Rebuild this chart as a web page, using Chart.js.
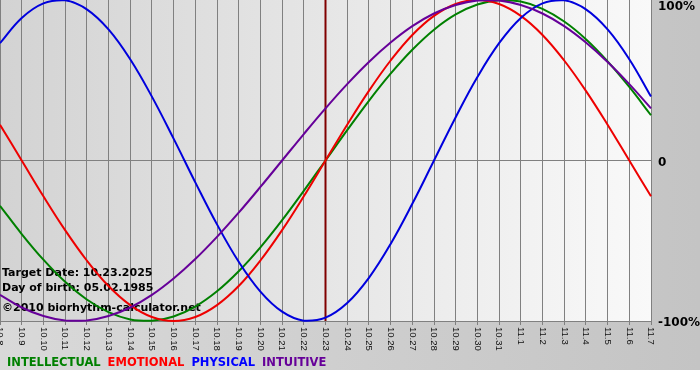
<!DOCTYPE html>
<html>
<head>
<meta charset="utf-8">
<script src="https://cdn.jsdelivr.net/npm/chart.js@4"></script>
<style>
  html, body { margin: 0; padding: 0; background: #fff; }
  #wrap { width: 700px; height: 380px; }
</style>
</head>
<body>
<div id="wrap"><canvas id="bioChart" width="700" height="380"></canvas></div>
<script>
// dates shown on the x axis
const days = ['10.8', '10.9', '10.10', '10.11', '10.12', '10.13', '10.14', '10.15', '10.16', '10.17',
  '10.18', '10.19', '10.20', '10.21', '10.22', '10.23', '10.24', '10.25', '10.26', '10.27',
  '10.28', '10.29', '10.30', '10.31', '11.1', '11.2', '11.3', '11.4', '11.5', '11.6', '11.7'];

// values in % per day
const intellectual = [-28.2, -45.8, -61.8, -75.6, -86.6, -94.5, -99.0, -99.9, -97.2, -91.0, -81.5,
  -69.0, -54.1, -37.2, -18.9, 0, 18.9, 37.2, 54.1, 69.0, 81.5, 91.0, 97.2, 99.9, 99.0, 94.5,
  86.6, 75.6, 61.8, 45.8, 28.2];
const emotional = [22.3, 0, -22.3, -43.4, -62.3, -78.2, -90.1, -97.5, -100, -97.5, -90.1, -78.2,
  -62.3, -43.4, -22.3, 0, 22.3, 43.4, 62.3, 78.2, 90.1, 97.5, 100, 97.5, 90.1, 78.2, 62.3, 43.4,
  22.3, 0, -22.3];
const physical = [73.1, 88.8, 97.9, 99.8, 94.2, 81.7, 63.1, 39.8, 13.6, -13.6, -39.8, -63.1, -81.7,
  -94.2, -99.8, -97.9, -88.8, -73.1, -52.0, -27.0, 0, 27.0, 52.0, 73.1, 88.8, 97.9, 99.8, 94.2,
  81.7, 63.1, 39.8];
const intuitive = [-83.7, -91.6, -96.9, -99.7, -99.7, -96.9, -91.6, -83.7, -73.5, -61.4, -47.6,
  -32.5, -16.5, 0, 16.5, 32.5, 47.6, 61.4, 73.5, 83.7, 91.6, 96.9, 99.7, 99.7, 96.9, 91.6, 83.7,
  73.5, 61.4, 47.6, 32.5];

const yTicks = [100, 0, -100];
const yTickText = ['100%', '0', '-100%'];
const targetDay = '10.23';
const infoLines = ['Target Date: 10.23.2025', 'Day of birth: 05.02.1985', '\u00a92010 biorhythm-calculator.net'];
const legendItems = [
  { text: 'INTELLECTUAL', color: '#008000' },
  { text: 'EMOTIONAL', color: '#ff0000' },
  { text: 'PHYSICAL', color: '#0000ff' },
  { text: 'INTUITIVE', color: '#660099' }
];

const bioPlugin = {
  id: 'bio',
  beforeDraw(chart) {
    const c = chart.ctx, a = chart.chartArea;
    c.save();
    c.fillStyle = '#fff';
    c.fillRect(0, 0, chart.width, chart.height);
    let g = c.createLinearGradient(0, 0, chart.width, 0);
    g.addColorStop(0, '#d9d9d9');
    g.addColorStop(1, '#c4c4c4');
    c.fillStyle = g;
    c.fillRect(0, 0, chart.width, 370);
    g = c.createLinearGradient(a.left, 0, a.right, 0);
    g.addColorStop(0, '#d3d3d3');
    g.addColorStop(1, '#f9f9f9');
    c.fillStyle = g;
    c.fillRect(a.left, a.top, a.right - a.left, a.bottom - a.top);
    c.restore();
  },
  beforeDatasetsDraw(chart) {
    const c = chart.ctx, a = chart.chartArea, x = chart.scales.x;
    c.save();
    // target date line
    const tx = x.getPixelForValue(days.indexOf(targetDay));
    c.strokeStyle = '#800000';
    c.lineWidth = 2;
    c.beginPath();
    c.moveTo(tx, a.top);
    c.lineTo(tx, a.bottom);
    c.stroke();
    // info text
    c.fillStyle = '#000';
    c.font = 'bold 11px "DejaVu Sans"';
    c.textBaseline = 'alphabetic';
    c.fillText(infoLines[0], 2, 276);
    c.fillText(infoLines[1], 2, 291);
    c.fillText(infoLines[2], 2, 311);
    c.restore();
  },
  afterDraw(chart) {
    const c = chart.ctx, a = chart.chartArea, x = chart.scales.x, y = chart.scales.y;
    c.save();
    // x labels, rotated clockwise
    c.fillStyle = '#111';
    c.font = '9.5px "Liberation Sans"';
    c.textAlign = 'left';
    c.textBaseline = 'middle';
    x.ticks.forEach((t, i) => {
      const px = x.getPixelForTick(i);
      c.save();
      c.translate(px, a.bottom + 6);
      c.rotate(Math.PI / 2);
      c.fillText(days[i], 0, 0);
      c.restore();
    });
    // y labels at right
    c.fillStyle = '#000';
    c.font = 'bold 12px "DejaVu Sans"';
    c.textBaseline = 'middle';
    yTicks.forEach((v, i) => {
      c.fillText(yTickText[i], a.right + 7, Math.max(y.getPixelForValue(v) + 2, 7));
    });
    // legend
    c.font = 'bold 11.5px "DejaVu Sans"';
    c.textBaseline = 'alphabetic';
    let lx = 7;
    legendItems.forEach(it => {
      c.fillStyle = it.color;
      c.fillText(it.text, lx, 366);
      lx += c.measureText(it.text).width + 7;
    });
    c.restore();
  }
};

const mk = (label, data, color) => ({
  label, data, borderColor: color, borderWidth: 2, pointRadius: 0,
  tension: 0.4, fill: false, clip: false
});

new Chart(document.getElementById('bioChart').getContext('2d'), {
  type: 'line',
  data: {
    labels: days,
    datasets: [
      mk('INTUITIVE', intuitive, '#660099'),
      mk('PHYSICAL', physical, '#0000dd'),
      mk('EMOTIONAL', emotional, '#ee0000'),
      mk('INTELLECTUAL', intellectual, '#008000')
    ]
  },
  options: {
    responsive: false,
    animation: false,
    layout: { padding: { left: 0, right: 49, top: 0, bottom: 55 } },
    plugins: { legend: { display: false }, tooltip: { enabled: false } },
    scales: {
      x: {
        offset: false,
        grid: { color: '#808080', lineWidth: 1, tickLength: 4, drawTicks: true },
        border: { color: '#808080' },
        ticks: { display: false, autoSkip: false }
      },
      y: {
        position: 'right',
        min: -100, max: 100,
        ticks: { display: false, stepSize: 100 },
        grid: {
          drawTicks: false,
          color: ctx => (ctx.tick && ctx.tick.value === 0 ? '#808080' : 'rgba(0,0,0,0)')
        },
        border: { display: false }
      }
    }
  },
  plugins: [bioPlugin]
});
</script>
</body>
</html>
